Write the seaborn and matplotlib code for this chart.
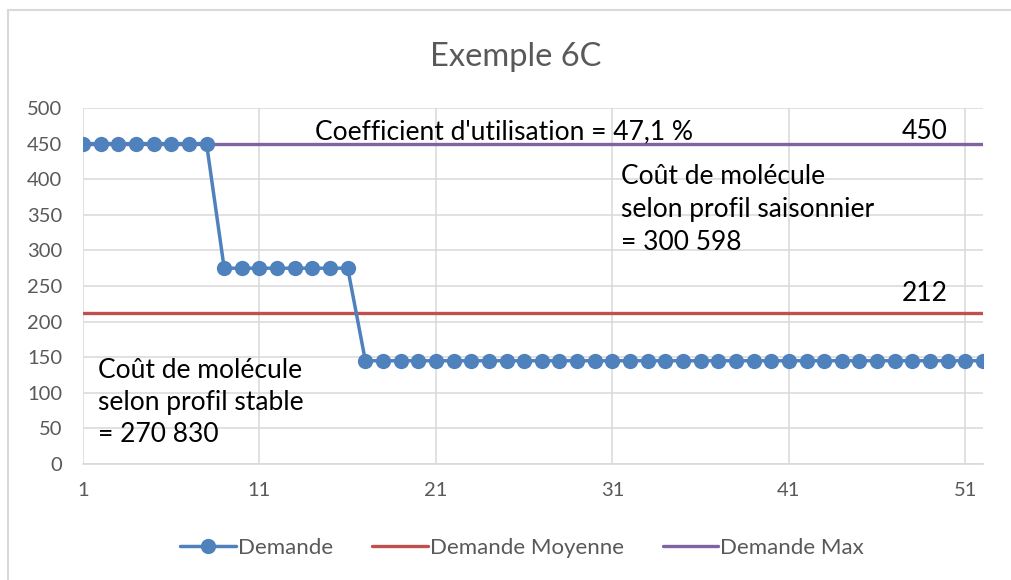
import matplotlib
matplotlib.use("Agg")
import matplotlib.pyplot as plt
import seaborn as sns
import pandas as pd

# Weekly demand profile
weeks = list(range(1, 53))
demande = [450] * 8 + [275] * 8 + [145] * 36
demande_moyenne = 212
demande_max = 450

y_ticks = [0, 50, 100, 150, 200, 250, 300, 350, 400, 450, 500]
x_ticks = [1, 11, 21, 31, 41, 51]

title = "Exemple 6C"
coef_text = "Coefficient d'utilisation = 47,1 %"
saison_text = "Coût de molécule\nselon profil saisonnier\n= 300 598"
stable_text = "Coût de molécule\nselon profil stable\n= 270 830"

sns.set_theme(style="white")
plt.rcParams["font.family"] = ["Lato", "DejaVu Sans"]

df = pd.DataFrame({
    "Semaine": weeks,
    "Demande": demande,
    "Demande Moyenne": [demande_moyenne] * len(weeks),
    "Demande Max": [demande_max] * len(weeks),
})

fig = plt.figure(figsize=(10.11, 5.8), dpi=100)
ax = fig.add_axes([0.0821, 0.2, 0.8902, 0.6138])

blue, red, purple = "#4F81BD", "#C0504D", "#8064A2"
grid_c = "#D9D9D9"
txt_c = "#595959"

sns.lineplot(data=df, x="Semaine", y="Demande Moyenne", ax=ax, color=red,
             linewidth=2.4, label="Demande Moyenne", zorder=3)
sns.lineplot(data=df, x="Semaine", y="Demande Max", ax=ax, color=purple,
             linewidth=2.4, label="Demande Max", zorder=3)
sns.lineplot(data=df, x="Semaine", y="Demande", ax=ax, color=blue,
             linewidth=2.5, marker="o", markersize=11, markeredgewidth=0,
             label="Demande", zorder=4)

ax.set_xlim(1, 52)
ax.set_ylim(0, 500)
ax.set_xticks(x_ticks)
ax.set_yticks(y_ticks)
ax.set_xlabel("")
ax.set_ylabel("")
ax.grid(True, color=grid_c, linewidth=1.1, zorder=0)
for s in ["top", "right", "left"]:
    ax.spines[s].set_visible(False)
ax.spines["bottom"].set_color(grid_c)
ax.spines["bottom"].set_linewidth(1.2)
ax.tick_params(axis="both", length=0, labelsize=14.5, colors=txt_c)
ax.tick_params(axis="x", pad=13)
ax.tick_params(axis="y", pad=15)

fig.text(0.5105, 0.886, title, ha="center", va="baseline", fontsize=23.5, color=txt_c)

fs = 19
ax.text(14.15, 467, coef_text, fontsize=fs, color="black", va="center", ha="left")
ax.text(47.4, 467, "450", fontsize=fs, color="black", va="center", ha="left")
ax.text(31.5, 358, saison_text, fontsize=fs, color="black", va="center", ha="left",
        linespacing=1.4)
ax.text(47.4, 240, "212", fontsize=fs, color="black", va="center", ha="left")
ax.text(1.85, 86, stable_text, fontsize=fs, color="black", va="center", ha="left",
        linespacing=1.35)

handles, labels = ax.get_legend_handles_labels()
order = [labels.index(n) for n in ["Demande", "Demande Moyenne", "Demande Max"]]
leg = ax.legend([handles[i] for i in order], [labels[i] for i in order],
                loc="center", bbox_to_anchor=(0.5165, 0.055), bbox_transform=fig.transFigure,
                ncol=3, frameon=False, fontsize=16, handlelength=2.5, handletextpad=0.1,
                columnspacing=1.75)
for t in leg.get_texts():
    t.set_color(txt_c)

# Chart area border (left and top edges visible)
fig.patches.append(plt.Rectangle((8 / 1011, -0.05), 1.1, 1.05 - 10 / 580,
                                 transform=fig.transFigure, fill=False,
                                 edgecolor="#D9D9D9", linewidth=1.5))

fig.savefig("out.png", dpi=100)
